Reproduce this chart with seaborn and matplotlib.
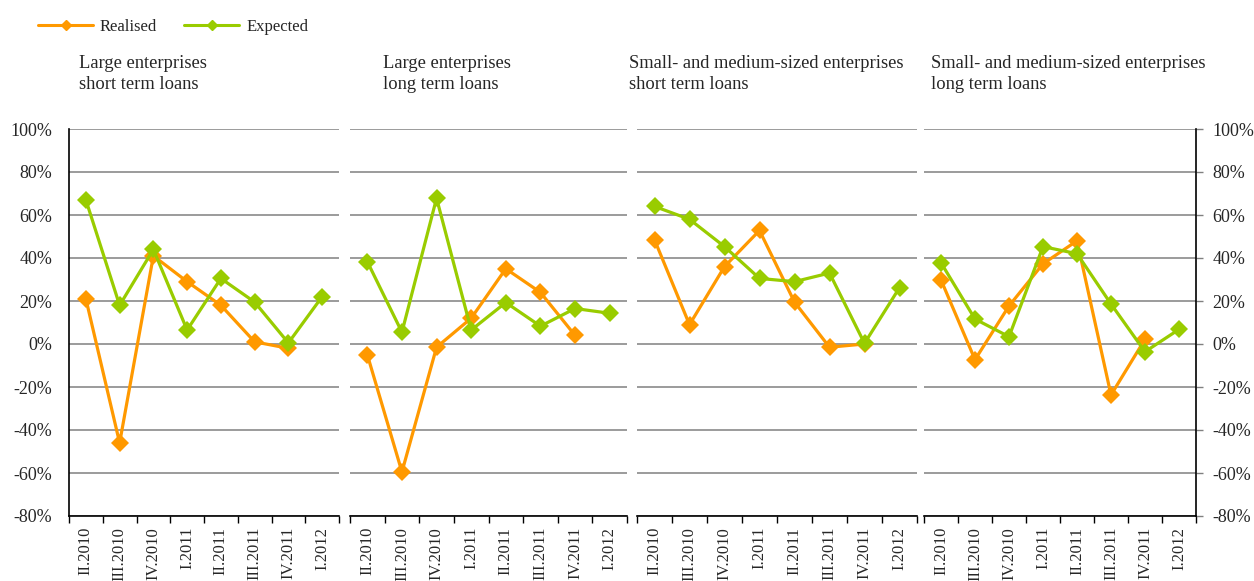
import numpy as np
import pandas as pd
import matplotlib
matplotlib.use("Agg")
import matplotlib.pyplot as plt
from matplotlib.lines import Line2D
from matplotlib.ticker import FixedLocator, FuncFormatter
import seaborn as sns

# Survey balances, per cent
quarters = ["II.2010", "III.2010", "IV.2010", "I.2011", "II.2011", "III.2011", "IV.2011", "I.2012"]
panel_titles = [
    "Large enterprises\nshort term loans",
    "Large enterprises\nlong term loans",
    "Small- and medium-sized enterprises\nshort term loans",
    "Small- and medium-sized enterprises\nlong term loans",
]
series_names = ["Realised", "Expected"]

large_short_realised = [21, -46, 41, 29, 18, 1, -2, np.nan]
large_short_expected = [67, 18, 44, 6.5, 30.5, 19.5, 0.5, 22]
large_long_realised = [-5, -59.5, -1.5, 12, 35, 24, 4, np.nan]
large_long_expected = [38.3, 5.5, 67.8, 6.5, 19.3, 8.3, 16.5, 14.3]
sme_short_realised = [48.5, 9, 36, 52.8, 19.5, -1.5, 0, np.nan]
sme_short_expected = [64, 58, 45.3, 30.5, 29, 33, 0.3, 26.2]
sme_long_realised = [29.8, -7.3, 17.7, 37.3, 48, -23.7, 2.2, np.nan]
sme_long_expected = [37.8, 11.6, 3.4, 45.3, 42, 18.6, -3.6, 6.8]

panel_series = [
    (large_short_realised, large_short_expected),
    (large_long_realised, large_long_expected),
    (sme_short_realised, sme_short_expected),
    (sme_long_realised, sme_long_expected),
]

colors = {"Realised": "#FF9900", "Expected": "#99CC00"}
grid_color = "#808080"

sns.set_theme(style="white")
plt.rcParams["font.family"] = ["Liberation Serif", "DejaVu Serif"]
plt.rcParams["axes.unicode_minus"] = False

W, H = 1254, 581
fig = plt.figure(figsize=(W / 100, H / 100), dpi=100)

# axes extents in pixels (left, right)
extents = [(69, 339), (350, 627), (637, 917), (924, 1196)]
top_px, bottom_px = 129, 516
title_x_px = [79, 383, 629, 931]

x_idx = np.arange(len(quarters))
yticks = np.arange(-80, 101, 20)

for i, ((lo, hi), (real, exp_)) in enumerate(zip(extents, panel_series)):
    ax = fig.add_axes([lo / W, 1 - bottom_px / H, (hi - lo) / W, (bottom_px - top_px) / H])
    df = pd.DataFrame({
        "pos": np.concatenate([x_idx, x_idx]),
        "value": np.concatenate([real, exp_]),
        "series": [series_names[0]] * len(quarters) + [series_names[1]] * len(quarters),
    }).dropna()
    sns.lineplot(data=df, x="pos", y="value", hue="series", hue_order=series_names,
                 palette=colors, marker="D", markersize=9, markeredgewidth=0,
                 linewidth=2.3, legend=False, ax=ax, zorder=3)

    ax.set_xlim(-0.5, len(quarters) - 0.5)
    ax.set_ylim(-80, 100)
    ax.set_xlabel("")
    ax.set_ylabel("")

    ax.set_yticks(yticks)
    ax.yaxis.set_major_formatter(FuncFormatter(lambda v, _: f"{v:.0f}%"))
    ax.grid(axis="y", color=grid_color, linewidth=1.1)
    ax.grid(axis="x", visible=False)
    ax.set_axisbelow(True)

    ax.set_xticks(x_idx)
    ax.set_xticklabels(quarters, rotation=90, fontsize=12, va="top")
    ax.xaxis.set_minor_locator(FixedLocator(np.arange(-0.5, len(quarters), 1.0)))
    ax.tick_params(axis="x", which="major", length=0, pad=8)
    ax.tick_params(axis="x", which="minor", length=5, width=1, color="black", direction="out", bottom=True)

    for s in ["top", "left", "right"]:
        ax.spines[s].set_visible(False)
    ax.spines["bottom"].set_color("black")
    ax.spines["bottom"].set_linewidth(1.2)

    if i == 0:
        ax.spines["left"].set_visible(True)
        ax.spines["left"].set_color("black")
        ax.spines["left"].set_linewidth(1.2)
        ax.tick_params(axis="y", left=True, labelleft=True, length=0, pad=12, labelsize=13)
    elif i == len(extents) - 1:
        ax.spines["right"].set_visible(True)
        ax.spines["right"].set_color("black")
        ax.spines["right"].set_linewidth(1.2)
        ax.yaxis.tick_right()
        ax.tick_params(axis="y", right=True, labelright=True, left=False, labelleft=False,
                       length=5, width=1, color=grid_color, direction="out", pad=7, labelsize=13)
    else:
        ax.tick_params(axis="y", left=False, labelleft=False, right=False, labelright=False)

    fig.text(title_x_px[i] / W, 1 - 55 / H, panel_titles[i], ha="left", va="top",
             fontsize=13.3, linespacing=1.32)

handles = [Line2D([], [], color=colors[n], marker="D", markersize=5, linewidth=2.2) for n in series_names]
fig.legend(handles, series_names, loc="upper left", bbox_to_anchor=(38 / W, 1 - 19 / H),
           ncol=2, frameon=False, fontsize=12, handlelength=3.3, columnspacing=1.65,
           handletextpad=0.4, borderaxespad=0, borderpad=0)

fig.savefig("out.png", dpi=100)
